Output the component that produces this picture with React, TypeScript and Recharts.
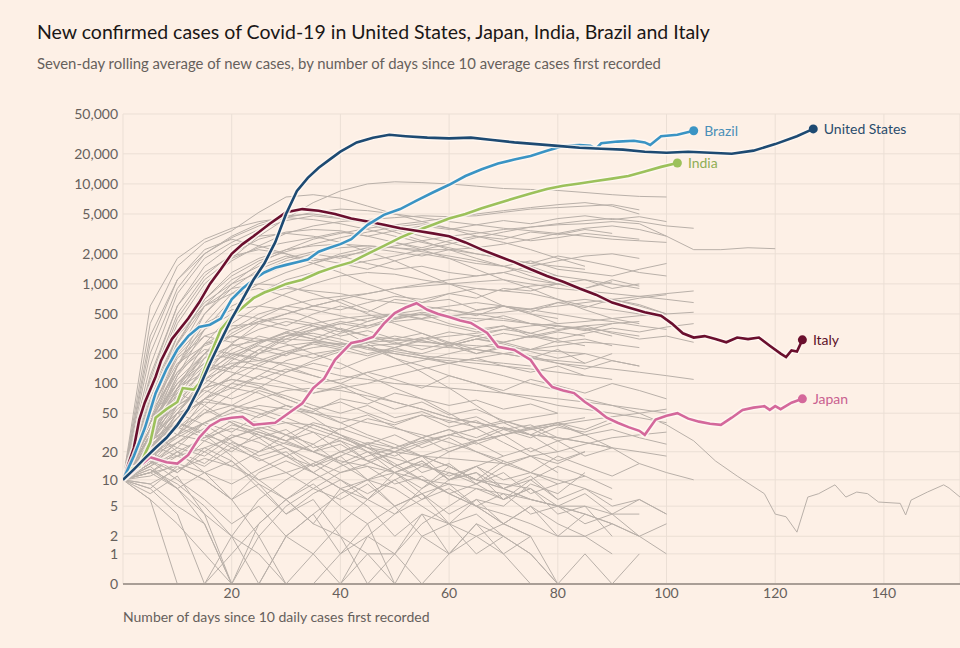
import { LineChart, Line, XAxis, YAxis, CartesianGrid, ReferenceDot } from 'recharts'

// days since 10 avg cases, and 7-day avg new cases
const usDays = [0, 2, 4, 6, 8, 10, 12, 14, 16, 18, 20, 22, 24, 26, 28, 30, 32, 34, 36, 38, 40, 43, 46, 49, 52, 56, 60, 64, 68, 72, 76, 80, 84, 88, 92, 96, 100, 104, 108, 112, 116, 120, 124, 127]
const usCases = [10, 13, 17, 22, 28, 38, 55, 90, 160, 270, 450, 700, 1100, 1600, 2600, 5000, 8500, 11500, 14500, 17500, 21000, 26000, 29000, 31000, 30000, 29000, 28500, 29000, 27500, 26000, 25000, 24000, 23000, 22500, 22000, 21000, 20500, 21000, 20500, 20000, 21500, 25000, 30000, 35500]

const brazilDays = [0, 2, 4, 6, 8, 10, 12, 14, 16, 18, 20, 22, 24, 26, 28, 30, 32, 34, 36, 38, 40, 42, 45, 48, 51, 54, 57, 60, 63, 66, 69, 72, 75, 78, 81, 84, 86, 87, 88, 91, 94, 96, 97, 99, 102, 105]
const brazilCases = [10, 18, 35, 80, 140, 220, 300, 370, 390, 450, 700, 900, 1100, 1300, 1450, 1550, 1650, 1750, 2100, 2300, 2500, 2800, 3900, 4900, 5600, 6800, 8200, 9800, 12000, 14000, 16000, 17500, 19000, 21500, 24000, 24500, 24000, 22500, 25500, 26500, 27000, 26000, 24500, 30000, 31000, 34000]

const indiaDays = [0, 1, 3, 5, 6, 8, 10, 11, 13, 14, 16, 18, 20, 22, 24, 26, 28, 30, 33, 36, 39, 42, 45, 48, 51, 54, 57, 60, 63, 66, 69, 72, 75, 78, 81, 84, 87, 90, 93, 96, 99, 102]
const indiaCases = [10, 13, 14, 25, 45, 55, 65, 90, 87, 100, 190, 350, 470, 580, 720, 820, 900, 1000, 1100, 1300, 1480, 1650, 2000, 2400, 2900, 3400, 3900, 4500, 5000, 5700, 6400, 7200, 8000, 8900, 9600, 10100, 10700, 11300, 12000, 13300, 14800, 16200]

const italyDays = [0, 2, 3, 4, 6, 7, 9, 12, 14, 16, 18, 20, 22, 24, 27, 30, 33, 36, 39, 42, 45, 48, 51, 54, 57, 60, 63, 66, 69, 72, 75, 78, 81, 84, 87, 90, 93, 96, 99, 101, 103, 105, 107, 109, 111, 113, 115, 117, 119, 121, 122, 123, 124, 125]
const italyCases = [10, 22, 43, 64, 117, 170, 280, 450, 650, 1000, 1400, 2000, 2500, 3000, 4000, 5200, 5600, 5400, 5000, 4500, 4200, 3900, 3600, 3400, 3200, 3000, 2600, 2200, 1900, 1650, 1400, 1200, 1050, 900, 780, 650, 580, 520, 480, 400, 320, 290, 300, 280, 260, 290, 280, 290, 240, 200, 185, 215, 210, 275]

const japanDays = [0, 3, 5, 8, 10, 12, 14, 16, 18, 20, 22, 24, 26, 28, 30, 33, 35, 37, 39, 42, 44, 46, 48, 50, 52, 54, 56, 58, 60, 62, 64, 67, 69, 72, 75, 77, 79, 81, 83, 85, 87, 89, 91, 93, 95, 96, 98, 100, 102, 104, 106, 108, 110, 112, 114, 116, 118, 119, 120, 121, 123, 125]
const japanCases = [10, 14, 17.5, 15.5, 15, 18.5, 28, 37, 43, 45, 46, 38, 39, 40, 48, 63, 90, 112, 173, 256, 270, 294, 400, 510, 580, 640, 550, 500, 465, 430, 407, 323, 234, 218, 173, 120, 92, 85, 80, 65, 55, 45, 40, 36, 33, 30, 43, 47, 50, 44, 41, 39, 38, 45, 54, 57, 59, 54, 59, 55, 64, 70]

// other countries, one value every GREY_STEP days from day 0
const GREY_STEP = 5
const otherCountries: number[][] = [
  [10, 400, 1500, 2600, 3400, 5200, 7400, 7800, 7200, 6000, 5000, 4200, 3600, 3000, 2600, 2200, 1800, 1500],
  [10, 60, 300, 900, 1800, 3000, 4500, 6500, 8500, 10000, 10500, 10300, 10000, 9500, 9000, 8800, 8600, 8200, 7800, 7500, 7400],
  [10, 150, 800, 1800, 2600, 3500, 4300, 4800, 4500, 4000, 3500, 3000, 2600, 2200, 1800, 1500, 1200],
  [10, 80, 400, 1000, 1700, 2400, 3200, 3800, 4200, 4400, 4600, 4800, 4700, 4800, 5200, 5600, 5800, 6000, 6200, 5500],
  [10, 40, 150, 500, 1000, 1600, 2200, 2800, 3200, 3600, 3900, 4200, 4600, 5000, 5400, 5800, 6200, 6500, 6000, 5000],
  [10, 30, 120, 350, 700, 1000, 1300, 1600, 1900, 2100, 2400, 2700, 3000, 3200, 3500, 3700, 3900, 4000, 4200, 4000, 3000, 2200, 2200, 2300, 2250],
  [10, 100, 500, 1200, 2000, 2800, 3300, 3500, 3400, 3000, 2600, 2200, 1800, 1400, 1100, 900, 700, 550, 450, 400],
  [10, 50, 250, 700, 1300, 1800, 2200, 2400, 2500, 2400, 2300, 2200, 2200, 2300, 2500, 2800, 3200, 3600, 3800, 3500, 3000],
  [10, 120, 600, 1500, 2400, 3000, 3200, 3000, 2600, 2100, 1700, 1300, 1000, 800, 600, 500, 400],
  [10, 30, 90, 250, 500, 800, 1100, 1300, 1500, 1700, 1900, 2200, 2500, 2900, 3300, 3700, 4000, 4300, 4500, 4200, 3800, 3600],
  [10, 200, 900, 2000, 3000, 4000, 4800, 5000, 4600, 4000, 3300, 2700, 2200, 1800, 1500, 1200, 1000, 850, 700, 600, 500],
  [10, 50, 200, 500, 900, 1400, 1800, 2100, 2300, 2400, 2300, 2100, 1900, 1700, 1500, 1300, 1200, 1100, 1000, 900],
  [10, 90, 450, 1100, 1800, 2300, 2600, 2900, 3300, 3000, 3400, 3800, 3500, 3900, 4300, 4000, 4500, 4800, 4400, 4700, 4200],
  [10, 70, 300, 650, 1000, 1300, 1700, 2000, 1800, 2200, 2600, 2300, 2700, 3000, 2800, 3300, 3100, 3500, 3200],
  [10, 110, 600, 1300, 1900, 2200, 2000, 1700, 1900, 1600, 1400, 1500, 1300, 1200, 1300, 1100, 1000, 1100, 900, 1000],
  [10, 40, 200, 600, 1100, 1500, 1900, 1600, 2000, 2300, 2100, 1900, 2200, 2000, 1800, 1600, 1900, 1700, 1500, 1300, 1200],
  [10, 250, 1100, 2200, 2800, 2400, 2000, 1600, 1300, 1000, 800, 650, 700, 550, 600, 500, 450],
  [10, 30, 150, 400, 800, 1200, 1500, 1800, 1600, 1400, 1700, 2000, 1800, 1600, 1500, 1700, 1400, 1300, 1200, 1400, 1600],
  [10, 60, 260, 700, 1200, 1700, 2100, 2500, 2900, 3300, 3700, 4000, 3600, 3300, 3000, 2700, 2900, 3200, 3000, 2800],
  [10, 600, 1800, 2800, 3600, 4200, 4600, 4400, 4000, 3500, 3000, 2600, 2300, 2000, 1800, 1600, 1500, 1400],
  [10, 300, 1100, 2000, 2900, 3800, 4600, 5200, 5600, 5400, 5000, 4600, 4200, 3900, 3600, 3400, 3200, 3000, 2800, 2700, 2600],
  [10, 40, 150, 350, 600, 800, 900, 850, 800, 700, 650, 600, 550, 500, 450, 400, 380, 350, 300],
  [10, 25, 70, 180, 350, 500, 600, 700, 750, 800, 900, 1000, 1100, 1200, 1300, 1500, 1700, 1900, 2000, 1800],
  [10, 60, 200, 400, 550, 600, 550, 450, 350, 250, 180, 130, 90, 60, 40, 30, 20],
  [10, 20, 50, 120, 250, 400, 500, 600, 700, 800, 900, 950, 1000, 1050, 1100, 1000, 900, 850, 800, 750, 700, 650],
  [10, 35, 120, 250, 300, 280, 250, 200, 160, 120, 90, 70, 50, 35, 25, 18, 12],
  [10, 15, 40, 90, 150, 220, 300, 350, 400, 450, 500, 550, 600, 650, 600, 550, 500, 450, 420, 380, 350],
  [10, 50, 180, 300, 380, 400, 350, 300, 260, 220, 200, 180, 170, 160, 150, 140, 130, 120, 110],
  [10, 25, 60, 120, 200, 260, 300, 320, 280, 230, 180, 150, 120, 100, 80, 70, 60, 55, 50, 45, 40],
  [10, 30, 80, 200, 400, 600, 800, 1000, 1200, 1300, 1250, 1100, 1000, 900, 850, 800, 700, 600, 550, 500, 450],
  [10, 20, 35, 60, 100, 150, 200, 260, 320, 380, 420, 450, 480, 500, 520, 560, 600, 650, 700, 750, 800, 850],
  [10, 45, 100, 160, 200, 180, 150, 120, 100, 80, 65, 55, 45, 40, 35, 30, 28, 25, 22],
  [10, 20, 45, 80, 120, 160, 200, 230, 250, 260, 270, 280, 300, 320, 350, 380, 400, 420, 450, 480, 500, 520],
  [10, 30, 70, 110, 150, 140, 120, 100, 110, 130, 150, 170, 200, 230, 260, 300, 340, 380, 400, 420],
  [10, 40, 130, 250, 350, 420, 450, 400, 350, 300, 280, 260, 250, 240, 230, 220, 210, 200],
  [10, 18, 30, 50, 80, 120, 170, 200, 220, 240, 250, 240, 230, 220, 200, 180, 160, 150, 140, 130, 120, 110],
  [10, 25, 55, 90, 110, 100, 90, 80, 90, 100, 120, 140, 160, 180, 200, 220, 240, 260, 250, 230],
  [10, 60, 250, 600, 900, 1000, 950, 800, 650, 500, 400, 320, 260, 220, 200, 180, 170, 160],
  [10, 35, 100, 180, 240, 270, 280, 270, 250, 230, 210, 190, 180, 170, 160, 150],
  [10, 22, 50, 100, 170, 250, 330, 400, 450, 480, 500, 490, 470, 450, 430, 400, 380, 360, 330, 300],
  [10, 40, 90, 130, 160, 170, 160, 140, 120, 110, 100, 95, 90, 85, 80, 75, 70, 65, 60, 55, 50],
  [10, 35, 110, 200, 320, 450, 380, 500, 600, 520, 700, 650, 800, 720, 900, 850, 1000, 900, 1100, 950],
  [10, 45, 150, 300, 260, 350, 420, 380, 300, 340, 280, 320, 250, 300, 260, 220, 270, 240],
  [10, 20, 60, 150, 250, 200, 300, 380, 330, 420, 500, 450, 550, 480, 600, 520, 650, 580, 700, 620, 500],
  [10, 30, 90, 160, 140, 220, 190, 260, 230, 300, 260, 220, 260, 200, 240, 180, 220, 160, 200],
  [10, 55, 160, 240, 300, 260, 330, 280, 240, 200, 230, 190, 160, 180, 150, 130, 150, 120],
  [10, 25, 70, 140, 220, 300, 260, 340, 400, 360, 440, 500, 460, 540, 600, 560, 650, 700, 640, 720, 780],
  [10, 40, 100, 200, 180, 260, 320, 280, 360, 300, 250, 290, 240, 200, 230, 190, 160, 140, 170, 150],
  [10, 15, 30, 70, 120, 200, 280, 350, 420, 380, 460, 520, 480, 420, 480, 400, 350, 380, 320, 280, 300, 260],
  [10, 50, 130, 220, 200, 170, 210, 250, 220, 190, 230, 270, 240, 280, 320, 290, 330, 300],
  [10, 20, 50, 110, 180, 150, 130, 170, 210, 260, 230, 280, 330, 300, 350, 320, 380, 340, 400],
  [10, 35, 85, 150, 130, 110, 140, 120, 100, 130, 110, 90, 120, 100, 85, 110, 95, 80, 100, 85, 70],
  [10, 65, 190, 350, 500, 450, 600, 550, 480, 420, 500, 440, 380, 330, 380, 320, 280],
  [10, 28, 75, 130, 190, 240, 210, 180, 220, 260, 300, 270, 240, 280, 250, 210, 180, 200, 170, 150],
  [10, 18, 40, 70, 100, 90, 130, 160, 140, 180, 220, 200, 240, 280, 260, 300, 280, 320, 360, 330, 370, 400],
  [10, 80, 300, 600, 800, 900, 750, 600, 700, 550, 450, 500, 400, 350, 380, 300, 260, 280, 240],
  [10, 25, 90, 200, 300, 420, 500, 600, 550, 650, 750, 700, 800, 900, 850, 950, 1000, 900, 1050],
  [10, 15, 25, 35, 45, 40, 30, 20, 15, 10, 8, 5, 3, 2, 1, 0],
  [10, 12, 8, 3, 0, 2, 5, 8, 12, 15, 20, 25, 30, 35, 40, 45, 50],
  [10, 20, 30, 40, 50, 60, 55, 50, 45, 40, 35, 30, 25, 20, 15, 12, 10, 8, 6],
  [10, 8, 4, 0, 1, 3, 6, 10, 14, 18, 22, 26, 30, 35],
  [10, 15, 18, 22, 28, 35, 40, 38, 30, 22, 15, 10, 7, 5, 4, 3, 2, 2, 1],
  [10, 20, 35, 50, 60, 55, 45, 35, 28, 22, 20, 18, 17, 16, 15, 18, 20, 24, 28, 30, 32],
  [10, 12, 14, 10, 6, 2, 0, 0, 1, 2, 4, 6, 10, 14, 18],
  [10, 25, 45, 70, 90, 80, 60, 45, 30, 20, 14, 10, 7, 5, 3, 2],
  [10, 6, 0, 0, 2, 6, 10, 15, 20, 25, 22, 18, 14, 10, 8, 6, 5, 4, 3],
  [10, 18, 28, 40, 55, 70, 85, 90, 85, 75, 65, 55, 45, 40, 35, 30, 28, 25, 22, 20, 18],
  [10, 13, 9, 5, 2, 1, 0, 0, 0, 1, 1, 0],
  [10, 22, 40, 30, 18, 10, 6, 3, 2, 1, 0, 0, 1, 2, 3, 2],
  [10, 16, 12, 20, 30, 25, 18, 12, 8, 6, 10, 14, 20, 26, 30, 36, 40, 45],
  [10, 30, 60, 90, 110, 95, 70, 55, 40, 30, 24, 18, 14, 10, 8, 6, 5, 4],
  [10, 14, 20, 28, 35, 30, 24, 20, 16, 14, 12, 10, 9, 8, 7, 6, 5, 5, 4, 4],
  [10, 30, 50, 65, 60, 50, 40, 32, 26, 20, 17, 14, 12, 10, 9, 8],
  [10, 9, 5, 3, 0, 0, 2, 4, 7, 10, 14, 18, 22, 26, 30, 34, 38, 42, 46, 50, 55],
  [10, 22, 45, 70, 60, 85, 70, 55, 65, 50, 40, 48, 36, 42, 30, 35, 26, 30, 22],
  [10, 14, 25, 40, 32, 48, 60, 52, 70, 62, 80, 70, 60, 68, 55, 62, 50],
  [10, 12, 20, 15, 25, 20, 30, 24, 35, 28, 22, 28, 20, 25, 18, 22, 16, 20],
  [10, 26, 40, 32, 22, 28, 18, 24, 15, 20, 12, 16, 10, 14, 8, 11, 6],
  [10, 8, 14, 10, 6, 12, 16, 12, 18, 24, 20, 28, 34, 28, 36, 30, 40, 34, 44],
  [10, 16, 10, 6, 3, 5, 2, 4, 1, 3, 0, 2, 1, 3, 2],
  [10, 20, 30, 26, 38, 32, 26, 20, 24, 16, 12, 16, 10, 12, 8, 10, 6, 8, 5, 6, 4],
  [10, 35, 60, 85, 70, 90, 75, 60, 50, 60, 45, 52, 40, 46, 34, 38, 28],
  [10, 6, 3, 1, 0, 0, 2, 1, 3, 6, 4, 8, 12, 9, 14, 18, 15, 20],
  [10, 24, 18, 30, 24, 16, 20, 12, 8, 10, 5, 7, 3, 4, 2, 1, 0],
  [10, 15, 22, 18, 28, 36, 30, 40, 34, 44, 38, 48, 42, 36, 42, 34, 38, 30, 34, 28, 24],
  [10, 40, 75, 110, 90, 120, 100, 80, 95, 70, 55, 65, 48, 55, 42, 35, 40, 30],
  [10, 11, 15, 12, 9, 13, 18, 14, 20, 16, 12, 15, 11, 14, 10, 12, 9, 11, 8],
  [10, 18, 12, 22, 16, 8, 4, 6, 2, 0, 1, 3, 5, 8, 6, 10, 14, 11],
  [10, 30, 22, 40, 55, 45, 60, 50, 40, 48, 36, 28, 34, 24, 30, 20, 26, 18, 22, 15],
  [10, 13, 8, 4, 2, 0, 0, 1, 0, 2, 1, 4, 3, 6, 5, 9, 7, 12],
  [10, 20, 14, 26, 20, 32, 26, 38, 30, 24, 30, 22, 28, 20, 16],
  [10, 45, 30, 55, 40, 28, 34, 22, 26, 16, 20, 12, 15, 9, 12, 7, 9],
  [10, 9, 13, 17, 14, 20, 25, 20, 28, 22, 18, 24, 30, 26, 34, 28, 36, 32, 40],
  [10, 24, 36, 28, 42, 34, 26, 32, 20, 24, 14, 18, 10, 12, 6, 8, 4, 5, 2],
  [10, 18, 25, 20, 14, 10, 12, 8, 6, 9, 5, 7, 4, 6, 3, 5, 2, 4, 3, 2, 1],
  [10, 28, 50, 38, 26, 18, 22, 14, 18, 10, 12, 7, 9, 5, 7, 4, 5, 3, 4, 2, 3],
  [10, 14, 8, 12, 6, 9, 4, 7, 10, 6, 12, 8, 14, 10, 16, 12, 18, 14, 11, 15, 12, 10],
  [10, 33, 20, 12, 16, 9, 6, 9, 5, 3, 5, 2, 3, 1, 2, 1, 0, 1, 0, 1],
  [10, 12, 18, 14, 22, 17, 12, 15, 10, 7, 10, 6, 8, 5, 3, 5, 3, 2, 3, 2],
  [10, 45, 80, 60, 40, 30, 22, 16, 12, 14, 9, 11, 7, 9, 6, 8, 5, 7, 4, 6, 4],
  [10, 7, 11, 4, 0, 3, 6, 3, 8, 5, 2, 4, 1, 3, 1, 2, 0],
]

// the one country that runs past day 150
const longRunDays = [0, 5, 10, 15, 20, 25, 30, 35, 40, 45, 50, 55, 60, 65, 70, 75, 80, 85, 90, 95, 100, 105, 109, 113, 118, 120, 122, 124, 126, 128, 131, 133, 135, 137, 139, 143, 144, 145, 148, 151, 152, 154]
const longRunCases = [10, 20, 45, 90, 150, 200, 240, 260, 250, 230, 200, 180, 160, 140, 120, 100, 85, 70, 60, 50, 38, 26, 16, 11, 7, 4, 3.7, 2.3, 6.4, 7, 8.8, 6.4, 7.3, 7, 5.6, 5.4, 3.9, 5.9, 7.3, 8.8, 8.1, 6.4]

const yTickValues = [0, 1, 2, 5, 10, 20, 50, 100, 200, 500, 1000, 2000, 5000, 10000, 20000, 50000]
const xTickValues = [20, 40, 60, 80, 100, 120, 140]

// log scale shifted by one so zero can sit on the axis
const toY = (v: number) => Math.log10(1 + v)
const fromY = (y: number) => Math.round(Math.pow(10, y) - 1)

const zip = (days: number[], cases: number[]) => days.map((d, i) => ({ day: d, y: toY(cases[i]) }))
const stepped = (cases: number[]) => cases.map((v, i) => ({ day: i * GREY_STEP, y: toY(v) }))

const highlighted = [
  { name: 'Japan', color: '#d4689b', text: '#c9608f', days: japanDays, cases: japanCases },
  { name: 'India', color: '#9cc15b', text: '#8fae55', days: indiaDays, cases: indiaCases },
  { name: 'Italy', color: '#6a0f2e', text: '#5e1029', days: italyDays, cases: italyCases },
  { name: 'Brazil', color: '#3a94c4', text: '#4a8fb8', days: brazilDays, cases: brazilCases },
  { name: 'United States', color: '#1d4a72', text: '#2a4c6c', days: usDays, cases: usCases },
]

const GREY = '#b9b0a9'
const TICK = '#66605c'

export default function App() {
  return (
    <div style={{ position: 'absolute', left: 0, top: 0, width: 960, height: 648, background: '#fdf0e6', fontFamily: 'Lato', overflow: 'hidden' }}>
      <div style={{ position: 'absolute', left: 37, top: 20, fontSize: 19.5, color: '#1a1716', whiteSpace: 'nowrap' }}>
        New confirmed cases of Covid-19 in United States, Japan, India, Brazil and Italy
      </div>
      <div style={{ position: 'absolute', left: 37, top: 54, fontSize: 14.9, color: TICK, whiteSpace: 'nowrap' }}>
        Seven-day rolling average of new cases, by number of days since 10 average cases first recorded
      </div>
      <div style={{ position: 'absolute', left: 0, top: 0 }}>
        <LineChart width={960} height={648} margin={{ top: 114, right: 0, bottom: 40, left: 0 }}>
          <CartesianGrid stroke="#ebdfd5" strokeWidth={1} />
          <XAxis
            dataKey="day"
            type="number"
            domain={[0, 154]}
            allowDataOverflow
            ticks={xTickValues}
            tickLine={false}
            tickSize={0}
            tickMargin={4}
            height={24}
            axisLine={{ stroke: '#a99e96', strokeWidth: 2 }}
            tick={{ fill: TICK, fontSize: 14 }}
          />
          <YAxis
            type="number"
            domain={[0, toY(50000)]}
            allowDataOverflow
            ticks={yTickValues.map(toY)}
            tickFormatter={(t: number) => fromY(t).toLocaleString('en-US')}
            axisLine={false}
            tickLine={false}
            tickSize={0}
            tickMargin={5}
            width={123}
            tick={{ fill: TICK, fontSize: 14 }}
            interval={0}
          />
          {otherCountries.map((c, i) => (
            <Line key={'g' + i} data={stepped(c)} dataKey="y" stroke={GREY} strokeWidth={1} dot={false} isAnimationActive={false} />
          ))}
          <Line data={zip(longRunDays, longRunCases)} dataKey="y" stroke={GREY} strokeWidth={1} dot={false} isAnimationActive={false} />
          {highlighted.map((s) => [
            <Line key={s.name + '-halo'} data={zip(s.days, s.cases)} dataKey="y" stroke="#fff8f2" strokeOpacity={0.85} strokeWidth={5.5} dot={false} isAnimationActive={false} />,
            <Line key={s.name} data={zip(s.days, s.cases)} dataKey="y" stroke={s.color} strokeWidth={2.6} dot={false} isAnimationActive={false} />,
          ])}
          {highlighted.map((s) => (
            <ReferenceDot
              key={s.name + '-dot'}
              x={s.days[s.days.length - 1]}
              y={toY(s.cases[s.cases.length - 1])}
              r={4.5}
              fill={s.color}
              stroke="none"
              label={{ value: s.name, position: 'right', offset: 6, fill: s.text, fontSize: 14 }}
            />
          ))}
        </LineChart>
      </div>
      <div style={{ position: 'absolute', left: 123, top: 608, fontSize: 14, color: TICK, whiteSpace: 'nowrap' }}>
        Number of days since 10 daily cases first recorded
      </div>
    </div>
  )
}
